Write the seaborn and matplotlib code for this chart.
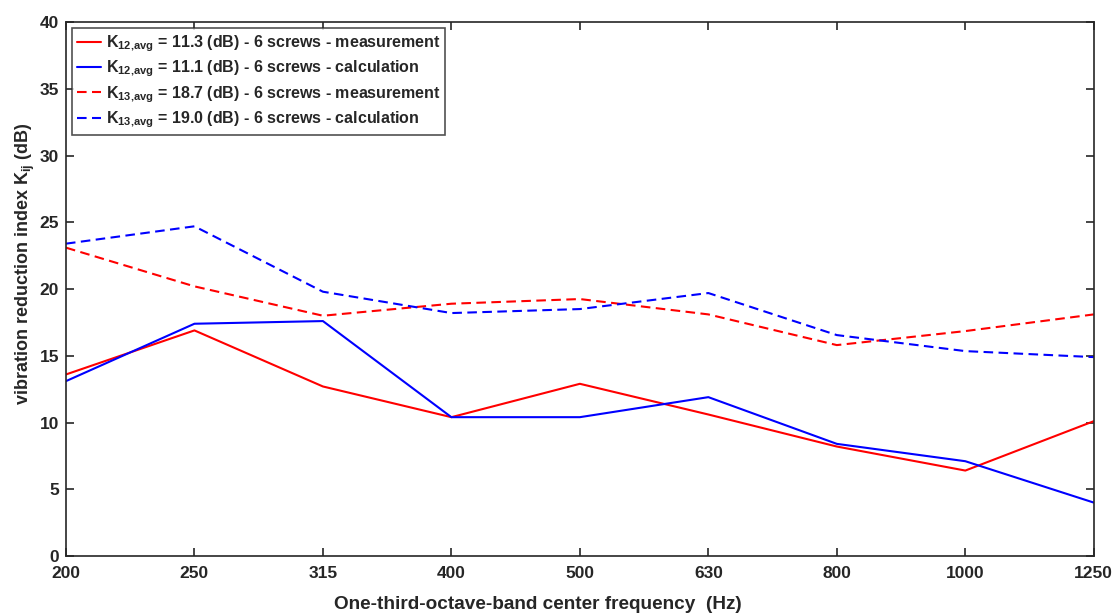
import matplotlib
matplotlib.use("Agg")
import matplotlib.pyplot as plt
import seaborn as sns
import pandas as pd
import numpy as np

freqs = ["200", "250", "315", "400", "500", "630", "800", "1000", "1250"]
k12_meas = [13.6, 16.9, 12.7, 10.4, 12.9, 10.6, 8.2, 6.4, 10.1]
k12_calc = [13.1, 17.4, 17.6, 10.4, 10.4, 11.9, 8.4, 7.1, 4.0]
k13_meas = [23.1, 20.2, 18.0, 18.9, 19.25, 18.1, 15.8, 16.85, 18.1]
k13_calc = [23.4, 24.7, 19.8, 18.2, 18.5, 19.7, 16.55, 15.35, 14.9]

labels = [
    r"$\mathbf{K_{12{,}avg}}$ = 11.3 (dB) - 6 screws - measurement",
    r"$\mathbf{K_{12{,}avg}}$ = 11.1 (dB) - 6 screws - calculation",
    r"$\mathbf{K_{13{,}avg}}$ = 18.7 (dB) - 6 screws - measurement",
    r"$\mathbf{K_{13{,}avg}}$ = 19.0 (dB) - 6 screws - calculation",
]
series = [k12_meas, k12_calc, k13_meas, k13_calc]
colors = ["#ff0000", "#0000ff", "#ff0000", "#0000ff"]
styles = ["-", "-", (0, (4.6, 2.6)), (0, (4.6, 2.6))]

sns.set_theme(style="ticks")
plt.rcParams["font.family"] = ["Liberation Sans", "DejaVu Sans"]
plt.rcParams["font.weight"] = "bold"
plt.rcParams["axes.labelweight"] = "bold"
plt.rcParams["mathtext.fontset"] = "custom"
plt.rcParams["mathtext.rm"] = "Liberation Sans:bold"
plt.rcParams["mathtext.bf"] = "Liberation Sans:bold"
plt.rcParams["mathtext.it"] = "Liberation Sans:bold"

fig = plt.figure(figsize=(11.16, 6.14), dpi=100)
ax = fig.add_axes([0.0591, 0.0945, 0.921, 0.8695])

xpos = np.arange(len(freqs))
for lab, vals, c, ls in zip(labels, series, colors, styles):
    df = pd.DataFrame({"x": xpos, "y": vals})
    sns.lineplot(data=df, x="x", y="y", ax=ax, color=c,
                 linewidth=1.5, label=lab)
    ax.lines[-1].set_linestyle(ls)

ax.set_xlim(0, len(freqs) - 1)
ax.set_ylim(0, 40)
ax.set_xticks(xpos)
ax.set_xticklabels(freqs)
ax.set_yticks(np.arange(0, 41, 5))
ax.tick_params(direction="in", length=6, width=1.2, labelsize=12.5, colors="#262626",
               top=True, right=True)
ax.tick_params(axis="x", pad=7)
ax.tick_params(axis="y", pad=5)
for lbl in ax.get_xticklabels() + ax.get_yticklabels():
    lbl.set_fontweight("bold")
for sp in ax.spines.values():
    sp.set_visible(True)
    sp.set_color("#262626")
    sp.set_linewidth(1.2)

ax.set_xlabel("One-third-octave-band center frequency  (Hz)", fontsize=13.7,
              fontweight="bold", color="#262626")
ax.set_ylabel(r"vibration reduction index K$_\mathbf{ij}$ (dB)", fontsize=13,
              fontweight="bold", color="#262626")
ax.xaxis.set_label_coords(0.459, -0.075)
ax.yaxis.set_label_coords(-0.028, 0.547)

leg = ax.legend(loc="upper left", fontsize=11.5, handlelength=1.5, handletextpad=0.3,
                borderpad=0.3, labelspacing=0.3, fancybox=False, frameon=True,
                borderaxespad=0.4)
leg.get_frame().set_edgecolor("#262626")
leg.get_frame().set_linewidth(1.2)
for t in leg.get_texts():
    t.set_fontweight("bold")
for h, ls in zip(leg.get_lines(), styles):
    h.set_linestyle(ls)

fig.savefig("out.png", dpi=100, facecolor="white")
